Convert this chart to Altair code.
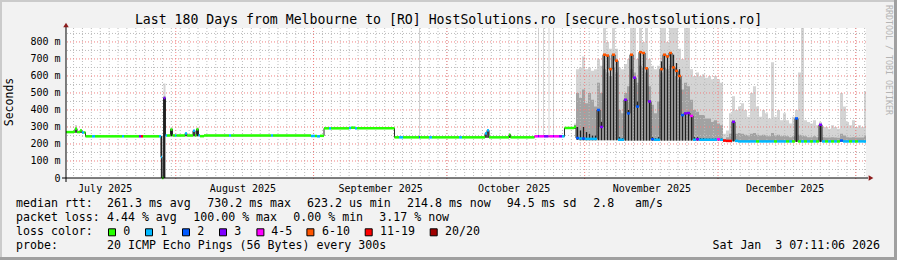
import json
import altair as alt
import pandas as pd

# ---------------- data ----------------
# day = days since the window start (2025-07-07 07:11 local), values in milliseconds
day = [0.00, 1.58, 2.03, 2.48, 3.15, 3.60, 4.05, 4.39, 5.85, 6.53,
       12.60, 13.05, 16.43, 16.88, 17.33, 20.93, 21.38, 21.60, 21.94, 22.39,
       22.73, 23.51, 23.96, 24.53, 24.86, 26.78, 27.23, 28.58, 29.03, 29.36,
       29.81, 30.15, 31.05, 36.68, 37.13, 46.13, 46.58, 55.13, 56.03, 56.48,
       57.15, 58.05, 59.18, 59.63, 63.68, 64.13, 65.03, 65.48, 73.91, 74.93,
       75.83, 79.43, 79.65, 81.68, 82.35, 88.43, 89.10, 94.28, 94.73, 95.18,
       99.68, 100.01, 105.41, 106.20, 106.43, 107.33, 107.55, 108.56, 108.79, 109.58,
       109.80, 110.93, 111.60, 112.16, 114.30,
       114.75, 115.43, 116.10, 116.78, 117.45, 118.13, 118.80,
       119.48, 120.15, 120.83, 121.50, 122.18, 122.85, 123.53,
       124.20, 124.88, 125.55, 126.23, 126.90, 127.58, 128.25, 128.93, 129.60, 130.28, 130.95,
       131.63, 132.30, 132.98,
       133.65, 134.33, 135.00, 135.68, 136.35, 137.03, 137.70,
       138.38, 139.05, 139.73, 140.40,
       141.08, 141.75, 142.43, 143.10, 143.78, 144.45, 145.13, 145.80, 146.48, 147.15,
       147.83, 148.50, 149.18, 149.85,
       150.53, 151.20, 151.88, 152.55, 153.23, 153.90, 154.58, 155.25, 155.93, 156.60,
       157.28, 157.95, 158.63, 159.30, 159.98, 160.65, 161.33, 162.00, 162.68, 163.35,
       164.03, 164.70, 165.38,
       166.05, 166.73, 167.40, 168.08, 168.75,
       169.43,
       170.10, 170.78, 171.45, 172.13, 172.80, 173.48,
       174.15, 174.83,
       175.50, 176.18, 176.85, 177.53, 178.20, 178.88, 179.55]

med = [270, 272, 290, 270, 280, 268, 268, 245, 245, 245,
       245, 245, 245, 245, 245, 245, 123, 0.6, 470, 250,
       250, 285, 250, 250, 250, 262, 250, 278, 250, 286,
       252, 246, 250, 250, 250, 250, 250, 247, 247, 245,
       248, 292, 292, 292, 294, 296, 292, 292, 239, 239,
       239, 239, 239, 239, 239, 239, 239, 262, 280, 239,
       255, 239, 245, 245, 245, 245, 245, 245, 245, 245,
       245, 245, 245, 294, 300,
       235, 232, 232, 230, 230, 230, 230,
       400, 300, 725, 720, 640, 725, 690,
       225, 225, 460, 380, 725, 590, 420, 740, 735, 645, 450,
       228, 225, 225,
       640, 725, 715, 735, 650, 630, 600,
       370, 380, 382, 365,
       225, 228, 225, 225, 225, 225, 225, 225, 228, 225,
       220, 218, 218, 330,
       218, 215, 215, 215, 215, 215, 215, 215, 215, 215,
       215, 215, 215, 215, 215, 215, 215, 215, 215, 215,
       350, 215, 215,
       215, 215, 215, 215, 215,
       313,
       215, 215, 215, 215, 215, 215,
       220, 215,
       215, 215, 215, 215, 215, 215, 215]

# index into loss_labels (lost pings out of 20)
loss = [0, 0, 0, 0, 0, 1, 0, 0, 1, 0,
        1, 0, 3, 6, 0, 1, 1, 0, 3, 1,
        0, 0, 0, 1, 0, 1, 0, 1, 0, 0,
        1, 0, 0, 1, 0, 1, 0, 1, 0, 1,
        0, 0, 1, 0, 1, 0, 1, 0, 0, 1,
        0, 2, 0, 1, 0, 1, 0, 1, 1, 0,
        0, 0, 4, 3, 4, 4, 3, 4, 4, 3,
        4, 3, 1, 0, 0,
        2, 1, 2, 1, 1, 1, 1,
        2, 3, 5, 5, 5, 5, 5,
        1, 1, 3, 2, 5, 3, 2, 5, 5, 5, 3,
        2, 1, 1,
        5, 5, 5, 5, 5, 5, 5,
        2, 3, 3, 4,
        1, 3, 1, 1, 1, 1, 1, 1, 4, 1,
        6, 6, 6, 3,
        1, 1, 1, 1, 1, 1, 1, 0, 1, 1,
        1, 1, 1, 0, 1, 1, 1, 0, 1, 0,
        2, 0, 1,
        0, 1, 0, 1, 0,
        3,
        1, 0, 1, 0, 1, 0,
        2, 1,
        1, 0, 1, 0, 1, 1, 1]

# lowest ping (bottom of the smoke)
lo = [266, 266, 266, 266, 266, 264, 264, 242, 242, 242,
      242, 242, 242, 242, 242, 242, 1, 0, 0, 246,
      246, 246, 246, 246, 246, 246, 246, 246, 246, 246,
      246, 243, 246, 246, 246, 246, 246, 244, 244, 242,
      245, 288, 288, 288, 290, 290, 288, 288, 236, 236,
      236, 236, 236, 236, 236, 236, 236, 236, 236, 236,
      236, 236, 241, 241, 241, 241, 241, 241, 241, 241,
      241, 241, 241, 290, 290,
      225, 222, 222, 222, 222, 222, 222,
      222, 222, 222, 222, 222, 222, 222,
      220, 220, 220, 220, 220, 220, 220, 220, 220, 220, 220,
      220, 220, 220,
      220, 220, 220, 220, 220, 220, 220,
      220, 220, 220, 220,
      220, 220, 220, 220, 220, 220, 220, 220, 220, 220,
      215, 215, 215, 215,
      212, 212, 212, 212, 212, 212, 212, 212, 212, 212,
      212, 212, 212, 212, 212, 212, 212, 212, 212, 212,
      212, 212, 212,
      212, 212, 212, 212, 212,
      212,
      212, 212, 212, 212, 212, 212,
      212, 212,
      212, 212, 212, 212, 212, 212, 212]

# highest ping (top of the light smoke)
hi = [275, 280, 312, 276, 284, 274, 272, 250, 250, 249,
      249, 249, 250, 252, 249, 250, 250, 250, 555, 256,
      255, 295, 256, 256, 255, 266, 255, 282, 255, 295,
      258, 251, 255, 255, 255, 255, 255, 252, 252, 250,
      252, 298, 298, 298, 300, 300, 298, 298, 244, 244,
      244, 900, 244, 244, 244, 244, 244, 270, 284, 244,
      258, 244, 250, 900, 250, 900, 250, 900, 250, 900,
      250, 250, 250, 298, 320,
      640, 650, 715, 640, 650, 630, 640,
      700, 660, 900, 800, 760, 900, 760,
      650, 640, 670, 700, 900, 900, 700, 900, 800, 900, 700,
      660, 640, 660,
      900, 900, 800, 900, 900, 900, 760,
      700, 900, 900, 640,
      600, 620, 600, 610, 590, 600, 580, 600, 580, 560,
      260, 280, 380, 480,
      400, 420, 440, 400, 360, 500, 540, 420, 360, 400,
      380, 350, 680, 360, 400, 340, 380, 340, 320, 360,
      400, 620, 900,
      340, 330, 320, 340, 310,
      330,
      300, 300, 290, 310, 300, 290,
      500, 420,
      330, 310, 340, 300, 310, 300, 510]

# top of the denser (medium grey) smoke
mh = [272, 275, 296, 272, 282, 270, 270, 247, 247, 247,
      247, 247, 247, 248, 247, 247, 245, 10, 480, 252,
      252, 290, 252, 252, 252, 264, 252, 280, 252, 290,
      254, 248, 252, 252, 252, 252, 252, 249, 249, 247,
      250, 294, 294, 294, 296, 298, 294, 294, 241, 241,
      241, 241, 241, 241, 241, 241, 241, 265, 282, 241,
      256, 241, 247, 247, 247, 247, 247, 247, 247, 247,
      247, 247, 247, 296, 310,
      500, 470, 520, 440, 500, 460, 420,
      560, 500, 640, 620, 600, 650, 620,
      400, 380, 500, 540, 640, 620, 560, 660, 650, 620, 540,
      430, 380, 450,
      620, 650, 640, 660, 640, 600, 580,
      520, 560, 540, 460,
      400, 390, 370, 370, 350, 350, 330, 340, 320, 310,
      230, 240, 260, 340,
      260, 265, 260, 255, 250, 260, 265, 255, 250, 255,
      250, 245, 265, 250, 255, 245, 250, 245, 240, 245,
      355, 255, 250,
      245, 240, 240, 245, 240,
      315,
      240, 238, 238, 240, 238, 236,
      260, 250,
      240, 238, 240, 238, 238, 238, 250]

# top of the near-black core of the smoke (0 = none)
dk = [0, 0, 294, 0, 280, 0, 0, 0, 0, 0,
      0, 0, 0, 0, 0, 0, 245, 0, 470, 0,
      0, 288, 0, 0, 0, 262, 0, 278, 0, 288,
      0, 0, 0, 0, 0, 0, 0, 0, 0, 0,
      0, 0, 0, 0, 0, 0, 0, 0, 0, 0,
      0, 0, 0, 0, 0, 0, 0, 262, 280, 0,
      255, 0, 0, 0, 0, 0, 0, 0, 0, 0,
      0, 0, 0, 0, 307,
      300, 280, 300, 270, 260, 250, 250,
      400, 330, 725, 720, 640, 725, 690,
      240, 235, 460, 400, 725, 590, 450, 740, 735, 645, 450,
      240, 235, 240,
      686, 725, 715, 735, 725, 676, 640,
      372, 382, 382, 362,
      240, 240, 235, 235, 232, 232, 232, 232, 232, 232,
      0, 0, 0, 330,
      0, 0, 0, 0, 0, 0, 0, 0, 0, 0,
      0, 0, 0, 0, 0, 0, 0, 0, 0, 0,
      350, 0, 0,
      0, 0, 0, 0, 0,
      313,
      0, 0, 0, 0, 0, 0,
      0, 0,
      0, 0, 0, 0, 0, 0, 0]

loss_labels = ["0", "1", "2", "3", "4-5", "6-10", "11-19", "20/20"]
loss_colors = ["#26ff00", "#00b8ff", "#0059ff", "#7e00ff", "#ff00ff", "#ff5500", "#ff0000", "#a00000"]

month_start_days = [24.7, 55.7, 85.7, 116.7, 146.7, 177.7]
month_label_days = [8.7, 39.7, 70.7, 100.7, 131.7, 161.7]
month_labels = ["July 2025", "August 2025", "September 2025", "October 2025",
                "November 2025", "December 2025"]
y_ticks = [0, 100, 200, 300, 400, 500, 600, 700, 800]
y_minor = [50, 150, 250, 350, 450, 550, 650, 750, 850]

title_text = "Last 180 Days from Melbourne to [RO] HostSolutions.ro [secure.hostsolutions.ro]"
row_rtt = ["median rtt:", "261.3 ms avg", "730.2 ms max", "623.2 us min", "214.8 ms now",
           "94.5 ms sd", "2.8", "am/s"]
row_loss = ["packet loss:", "4.44 % avg", "100.00 % max", "0.00 % min", "3.17 % now"]
probe_text = ["probe:", "20 ICMP Echo Pings (56 Bytes) every 300s"]
stamp_text = "Sat Jan \u00a03 07:11:06 2026"
watermark = "RRDTOOL / TOBI OETIKER"

# ---------------- layout / style ----------------
FONT = "DejaVu Sans Mono"
W, H = 800, 150
PL, PT = 66, 28          # plot origin on the canvas
xs = alt.Scale(domain=[0, 180], nice=False, zero=False)
ys = alt.Scale(domain=[0, 882], nice=False, zero=False)

x_label_expr = "%s[indexof(%s, datum.value)]" % (json.dumps(month_labels), json.dumps(month_label_days))
AX_X = alt.Axis(values=month_label_days, labelExpr=x_label_expr, title=None,
                grid=False, domain=False, ticks=False, labelFont=FONT,
                labelFontSize=10, labelColor="#000000", labelPadding=5,
                labelOverlap=False, labelFlush=False)
AX_Y = alt.Axis(values=y_ticks,
                labelExpr="datum.value == 0 ? '0\u00a0\u00a0' : datum.value + ' m'",
                title=None, grid=False, domain=False, ticks=False,
                labelFont=FONT, labelFontSize=10, labelColor="#000000",
                labelPadding=6, labelOverlap=False, labelFlush=False)

end = day[1:] + [180.0]
df = pd.DataFrame({"day": day, "end": end, "med": med,
                   "loss": [loss_labels[i] for i in loss],
                   "lo": lo, "hi": hi, "mh": mh, "dk": dk})
df["mid"] = (df["day"] + df["end"]) / 2
last = df.iloc[[-1]].copy()
last["day"] = 180.0
adf = pd.concat([df, last], ignore_index=True)

one = pd.DataFrame({"k": [0]})


def xq(f):
    return alt.X(f, scale=xs, axis=AX_X)


def yq(f):
    return alt.Y(f, scale=ys, axis=AX_Y)


def box(x1, x2, y1, y2, color):
    return alt.Chart(one).mark_rect(color=color).encode(
        x=alt.value(x1), x2=alt.value(x2), y=alt.value(y1), y2=alt.value(y2))


def txt(s, ax, ay, size=11.6, align="left", color="#000000", angle=None):
    kw = dict(text=s, font=FONT, fontSize=size, align=align, baseline="middle", color=color)
    if angle is not None:
        kw["angle"] = angle
    return alt.Chart(one).mark_text(**kw).encode(x=alt.value(ax - PL), y=alt.value(ay - PT))


layers = []
# smoke
layers.append(alt.Chart(adf).mark_area(interpolate="step-after", color="#d4d4d4", clip=True)
              .encode(x=xq("day:Q"), y=yq("hi:Q"), y2="lo:Q"))
layers.append(alt.Chart(adf).mark_area(interpolate="step-after", color="#a2a2a2", clip=True)
              .encode(x=xq("day:Q"), y=yq("mh:Q"), y2="lo:Q"))

# grid
x_minor = [1.7 + 2 * i for i in range(90)]
layers.append(alt.Chart(pd.DataFrame({"v": x_minor})).mark_rule(color="#bcbcbc", strokeDash=[1, 2])
              .encode(x=xq("v:Q")))
layers.append(alt.Chart(pd.DataFrame({"v": y_minor})).mark_rule(color="#bcbcbc", strokeDash=[1, 2])
              .encode(y=yq("v:Q")))
layers.append(alt.Chart(pd.DataFrame({"v": month_start_days})).mark_rule(color="#f08080", strokeDash=[1, 2])
              .encode(x=xq("v:Q"), y=alt.value(0), y2=alt.value(H + 3)))
layers.append(alt.Chart(pd.DataFrame({"v": y_ticks[1:]})).mark_rule(color="#f08080", strokeDash=[1, 2])
              .encode(y=yq("v:Q")))

# dark smoke core, median line
layers.append(alt.Chart(df).transform_filter("datum.dk > 0").mark_rule(color="#202020", strokeWidth=1.3)
              .encode(x=xq("mid:Q"), y=yq("lo:Q"), y2="dk:Q"))
layers.append(alt.Chart(adf).mark_line(interpolate="step-after", color="#2a2a2a", strokeWidth=1)
              .encode(x=xq("day:Q"), y=yq("med:Q")))
layers.append(alt.Chart(df).mark_rule(strokeWidth=2.5)
              .encode(x=xq("day:Q"), x2="end:Q", y=yq("med:Q"),
                      color=alt.Color("loss:N", scale=alt.Scale(domain=loss_labels, range=loss_colors),
                                      legend=None)))

# frame shading
layers += [box(-PL, 897 - PL, -PT, -PT + 2, "#cbcbcb"),
           box(-PL, -PL + 2, -PT, 260 - PT, "#cbcbcb"),
           box(894 - PL, 897 - PL, -PT, 260 - PT, "#a0a0a0"),
           box(-PL, 897 - PL, 257 - PT, 260 - PT, "#a0a0a0")]

# axis lines and arrows
layers.append(alt.Chart(one).mark_rule(color="#000000").encode(
    x=alt.value(-4), x2=alt.value(W + 2), y=alt.value(H)))
layers.append(alt.Chart(one).mark_rule(color="#000000").encode(
    x=alt.value(0), y=alt.value(-3), y2=alt.value(H + 4)))
layers.append(alt.Chart(one).mark_point(shape="triangle-right", filled=True, color="#8c1c1c",
                                        size=30, opacity=1).encode(x=alt.value(W + 5), y=alt.value(H)))
layers.append(alt.Chart(one).mark_point(shape="triangle-up", filled=True, color="#8c1c1c",
                                        size=30, opacity=1).encode(x=alt.value(0), y=alt.value(-3)))

# titles
layers.append(txt(title_text, 448.5, 19.5, size=13.2, align="center"))
layers.append(txt("Seconds", 10, 102, size=11.5, align="center", angle=270))
layers.append(txt(watermark, 888, 5, size=8.3, color="#b4b4b4", angle=90))

# legend rows
rtt_x = [16, 107, 207.3, 307, 407, 506.7, 593.3, 635]
for s, ax in zip(row_rtt, rtt_x):
    layers.append(txt(s, ax, 204.3))
loss_x = [16, 107, 193.3, 293.3, 379.3]
for s, ax in zip(row_loss, loss_x):
    layers.append(txt(s, ax, 218.3))
layers.append(txt("loss color:", 16, 232.3))
sq_x = [112, 149, 186, 223, 260.4, 310.4, 368.7, 433.7]
lab_x = [123.3, 160.3, 197.3, 234.3, 271.3, 322, 380, 445]
for lab, col, sx, lx in zip(loss_labels, loss_colors, sq_x, lab_x):
    layers.append(alt.Chart(one).mark_point(shape="square", filled=True, fill=col, stroke="#000000",
                                            strokeWidth=1, size=49, opacity=1)
                  .encode(x=alt.value(sx - PL), y=alt.value(232.3 - PT)))
    layers.append(txt(lab, lx, 232.3))
layers.append(txt(probe_text[0], 16, 246.3))
layers.append(txt(probe_text[1], 107, 246.3))
layers.append(txt(stamp_text, 880, 246.3, align="right"))

chart = (alt.layer(*layers)
         .properties(width=W, height=H, autosize=alt.AutoSizeParams(type="none"),
                     padding={"left": PL, "top": PT, "right": 897 - PL - W, "bottom": 260 - PT - H})
         .configure(background="#f2f2f2")
         .configure_view(fill="#ffffff", stroke=None))

chart.save("out.html", embed_options={"renderer": "svg", "actions": False})
